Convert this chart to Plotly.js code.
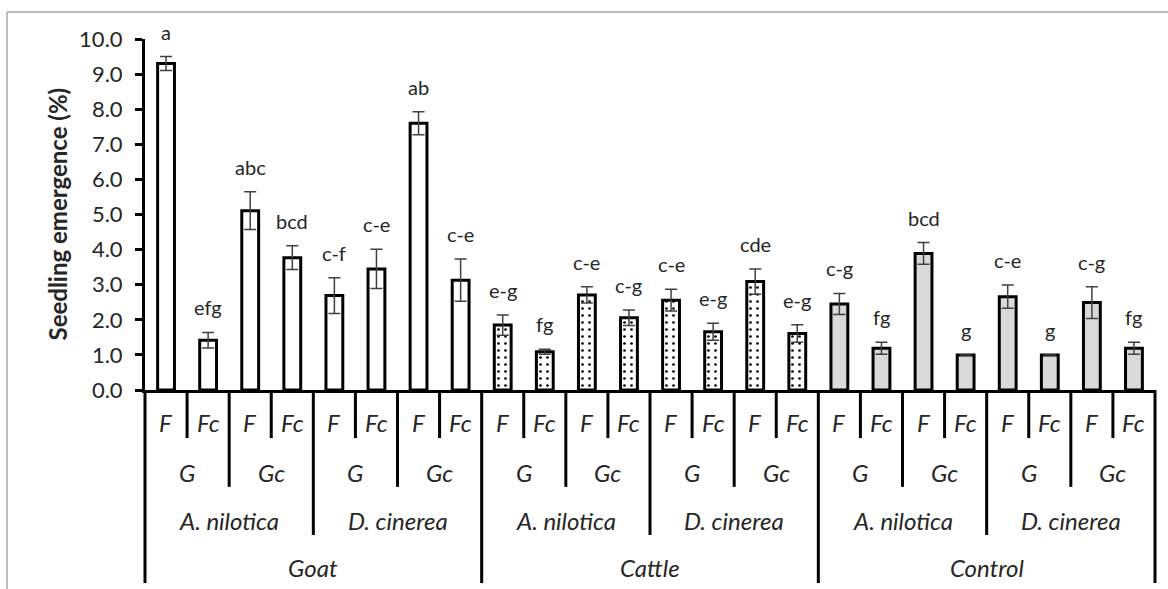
<!DOCTYPE html>
<html>
<head>
<meta charset="utf-8">
<script src="https://cdn.plot.ly/plotly-3.0.1.min.js"></script>
<style>html,body{margin:0;padding:0;background:#fff;}#chart{width:1168px;height:589px;}</style>
</head>
<body>
<div id="chart"></div>
<script>
// ---- data ----
var animals   = ['Goat', 'Cattle', 'Control'];
var species   = ['A. nilotica', 'D. cinerea'];
var gutTypes  = ['G', 'Gc'];
var feedTypes = ['F', 'Fc'];

var values = [9.30, 1.42, 5.11, 3.77, 2.69, 3.45, 7.60, 3.13,
              1.85, 1.09, 2.71, 2.06, 2.56, 1.66, 3.09, 1.61,
              2.45, 1.19, 3.89, 1.00, 2.66, 1.00, 2.49, 1.19];
var errors = [0.20, 0.22, 0.54, 0.34, 0.51, 0.56, 0.33, 0.60,
              0.29, 0.07, 0.23, 0.22, 0.31, 0.24, 0.36, 0.25,
              0.30, 0.17, 0.31, 0.00, 0.33, 0.00, 0.45, 0.17];
var letters = ['a', 'efg', 'abc', 'bcd', 'c-f', 'c-e', 'ab', 'c-e',
               'e-g', 'fg', 'c-e', 'c-g', 'c-e', 'e-g', 'cde', 'e-g',
               'c-g', 'fg', 'bcd', 'g', 'c-e', 'g', 'c-g', 'fg'];

// ---- build per-bar hierarchy ----
var bars = [];
animals.forEach(function (a, ai) {
  species.forEach(function (s, si) {
    gutTypes.forEach(function (g, gi) {
      feedTypes.forEach(function (f, fi) {
        bars.push({a: ai, s: si, g: gi, f: fi});
      });
    });
  });
});
var N = bars.length;

var styles = [
  {color: '#ffffff', pattern: {shape: ''}},
  {color: '#ffffff', pattern: {shape: '.', fgcolor: '#000000', bgcolor: '#ffffff', size: 7, solidity: 0.12}},
  {color: '#d9d9d9', pattern: {shape: ''}}
];

var traces = animals.map(function (a, ai) {
  var xs = [], ys = [], es = [];
  bars.forEach(function (b, i) {
    if (b.a === ai) { xs.push(i); ys.push(values[i]); es.push(errors[i]); }
  });
  return {
    type: 'bar', name: a, x: xs, y: ys, width: 0.4,
    marker: {color: styles[ai].color, pattern: styles[ai].pattern,
             line: {color: '#000000', width: 3}},
    error_y: {type: 'data', array: es, visible: true, color: '#404040', thickness: 1.5, width: 6},
    showlegend: false, hoverinfo: 'x+y'
  };
});

var FONT = 'Lato, "Open Sans", sans-serif';
var TXT = '#262626';
var annotations = [];
var shapes = [];

// significance letters
for (var i = 0; i < N; i++) {
  annotations.push({x: i, y: values[i] + errors[i], xref: 'x', yref: 'y', text: letters[i],
    showarrow: false, yanchor: 'bottom', yshift: 11,
    font: {family: FONT, size: 20, color: TXT}});
}

// hierarchical category axis
var rowY = [-0.094, -0.234, -0.371, -0.507];
var lineY = [-0.137, -0.276, -0.413, -0.550];
function toPaper(x) { return (x + 0.5) / N; }

function groupLabels(keyFn, textFn, row) {
  var start = 0;
  for (var i = 1; i <= N; i++) {
    if (i === N || keyFn(bars[i]) !== keyFn(bars[start])) {
      annotations.push({x: (start + i - 1) / 2, xref: 'x', y: rowY[row], yref: 'paper',
        text: '<i>' + textFn(bars[start]) + '</i>', showarrow: false, yanchor: 'middle',
        font: {family: FONT, size: 24, color: TXT}});
      start = i;
    }
  }
}
groupLabels(function (b) { return b.a + '-' + b.s + '-' + b.g + '-' + b.f; }, function (b) { return feedTypes[b.f]; }, 0);
groupLabels(function (b) { return b.a + '-' + b.s + '-' + b.g; }, function (b) { return gutTypes[b.g]; }, 1);
groupLabels(function (b) { return b.a + '-' + b.s; }, function (b) { return species[b.s]; }, 2);
groupLabels(function (b) { return '' + b.a; }, function (b) { return animals[b.a]; }, 3);

// separator lines
for (var k = 0; k <= N; k++) {
  var level;
  if (k === 0 || k === N) level = 3;
  else {
    var p = bars[k - 1], q = bars[k];
    if (p.a !== q.a) level = 3;
    else if (p.s !== q.s) level = 2;
    else if (p.g !== q.g) level = 1;
    else level = 0;
  }
  var xp = toPaper(k - 0.5);
  shapes.push({type: 'line', xref: 'paper', yref: 'paper', x0: xp, x1: xp, y0: 0, y1: lineY[level],
    line: {color: '#000000', width: 3}});
}

// outer frame (top and left only)
shapes.push({type: 'line', xref: 'paper', yref: 'paper', x0: -0.1366, x1: 1.02, y0: 1.077, y1: 1.077,
  line: {color: '#a6a6a6', width: 1.5}});
shapes.push({type: 'line', xref: 'paper', yref: 'paper', x0: -0.1366, x1: -0.1366, y0: 1.077, y1: -0.6,
  line: {color: '#a6a6a6', width: 1.5}});

var layout = {
  width: 1168, height: 589,
  margin: {l: 145, r: 13, t: 39, b: 199},
  paper_bgcolor: '#ffffff', plot_bgcolor: '#ffffff',
  showlegend: false,
  barmode: 'group',
  xaxis: {range: [-0.5, N - 0.5], showline: true, linecolor: '#000000', linewidth: 3,
          showticklabels: false, ticks: '', showgrid: false, zeroline: false, fixedrange: true},
  yaxis: {range: [0, 10], dtick: 1, tickformat: '.1f', ticks: 'outside', ticklen: 7, tickwidth: 3,
          tickcolor: '#000000', showline: true, linecolor: '#000000', linewidth: 3,
          showgrid: false, zeroline: false, fixedrange: true, ticklabelstandoff: 8,
          tickfont: {family: FONT, size: 22, color: TXT}},
  annotations: annotations.concat([{
    text: '<b>Seedling emergence (%)</b>', xref: 'paper', yref: 'paper',
    x: (57 - 145) / 1010, y: 0.5, textangle: -90, showarrow: false,
    xanchor: 'center', yanchor: 'middle',
    font: {family: FONT, size: 24, color: TXT}}]),
  shapes: shapes
};

Plotly.newPlot('chart', traces, layout, {displayModeBar: false, staticPlot: true});
</script>
</body>
</html>
